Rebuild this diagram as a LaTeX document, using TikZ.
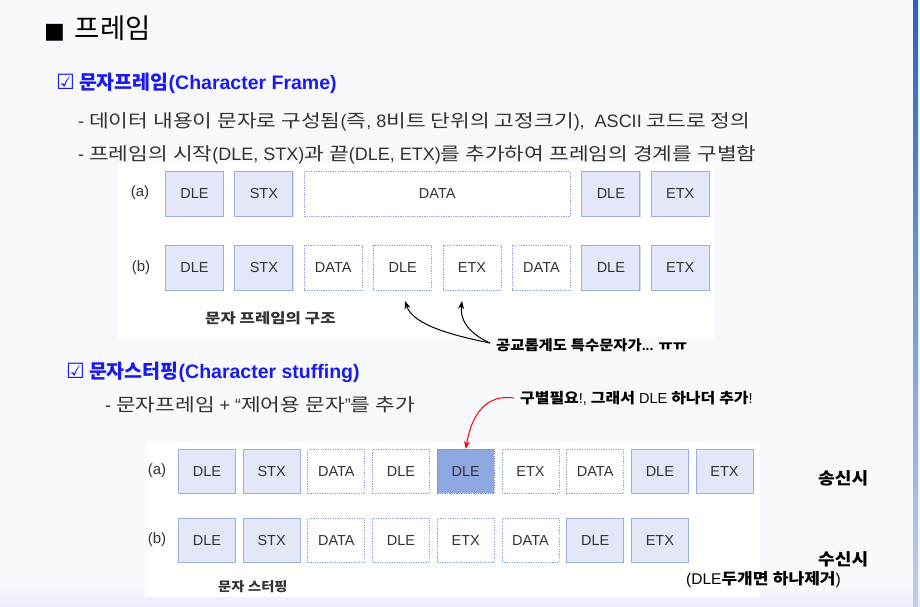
\documentclass[tikz,border=0pt]{standalone}
\usepackage{fontspec}
\setmainfont{Liberation Sans}
\newfontfamily\krfontA{Noto Sans CJK KR}
\newfontfamily\krfontB{Noto Sans CJK KR}[FakeStretch=1.1]
\newfontfamily\krfontC{Noto Sans CJK KR}[FakeStretch=1.19]
\newfontfamily\symfont{DejaVu Sans}
\usetikzlibrary{arrows.meta,shadows}
\newif\ifkrbold
\let\krsel\krfontB
\XeTeXinterchartokenstate=1
\newXeTeXintercharclass\KrClass
\newcount\krc
\krc="AC00
\loop\ifnum\krc<"D7A4\relax \XeTeXcharclass\krc=\KrClass \advance\krc by 1 \repeat
\krc="3131
\loop\ifnum\krc<"318F\relax \XeTeXcharclass\krc=\KrClass \advance\krc by 1 \repeat
\XeTeXinterchartoks 0 \KrClass = {\begingroup\krsel\ifkrbold\bfseries\fi}
\XeTeXinterchartoks 4095 \KrClass = {\begingroup\krsel\ifkrbold\bfseries\fi}
\XeTeXinterchartoks \KrClass 0 = {\endgroup}
\XeTeXinterchartoks \KrClass 4095 = {\endgroup}
\definecolor{boxfill}{HTML}{E4E7F8}
\definecolor{boxline}{HTML}{9BB0E0}
\definecolor{dashline}{HTML}{8FA9DA}
\definecolor{hifill}{HTML}{8EA8E2}
\definecolor{txt}{HTML}{333333}
\definecolor{headblue}{HTML}{1A1AF0}
\definecolor{bgc}{HTML}{F7F9FC}
\definecolor{edgeblue}{HTML}{2E62B8}
\tikzset{
  x=1pt, y=-1pt,
  fbox/.style={draw=boxline, fill=boxfill, line width=0.9pt, minimum height=45pt,
    minimum width=58pt, inner sep=0pt, anchor=north west, font=\fontsize{14.5}{16}\selectfont, text=txt,
    drop shadow={shadow xshift=0.8pt, shadow yshift=-0.8pt, fill=black!25, opacity=0.6}},
  dbox/.style={draw=dashline, fill=white, line width=0.9pt, dash pattern=on 1.3pt off 1.1pt,
    minimum height=45pt, minimum width=58pt, inner sep=0pt, anchor=north west,
    font=\fontsize{14.5}{16}\selectfont, text=txt},
  hbox/.style={dbox, fill=hifill, draw=boxline!80!black},
  sbox/.style={minimum height=44pt, minimum width=57pt},
  rowlab/.style={font=\fontsize{15}{17}\selectfont, text=txt, anchor=center},
  plain/.style={anchor=west, inner sep=0pt, text=black},
  curv/.style={-{Stealth[length=8pt,width=6pt]}, line width=1pt}
}
\begin{document}
\begin{tikzpicture}
\useasboundingbox (0,0) rectangle (920,607);
\fill[bgc] (0,0) rectangle (920,607);
\shade[top color=bgc, bottom color=blue!8] (0,588) rectangle (920,607);
\shade[top color=edgeblue, bottom color=edgeblue!30] (913,0) rectangle (918,607);
\fill[white] (118,163) rectangle (714,338);
\fill[white] (145,443) rectangle (760,597);
% headings
\node[plain, font=\fontsize{27.5}{30}\selectfont\let\krsel\krfontA] (title) at (44,28) {{\symfont\fontsize{22}{26}\selectfont ■}\hspace{10pt}프레임};
\node[plain, font=\fontsize{19.5}{22}\selectfont\bfseries\let\krsel\krfontA, text=headblue] (h1) at (56,83) {{\symfont\bfseries\fontsize{21}{22}\selectfont ☑}\hspace{4pt}문자프레임(Character Frame)};
\node[plain, font=\fontsize{18}{20}\selectfont\let\krsel\krfontC, text=txt] (l1) at (78,122) {- 데이터 내용이 문자로 구성됨(즉, 8비트 단위의 고정크기),\hspace{5pt} ASCII 코드로 정의};
\node[plain, font=\fontsize{18}{20}\selectfont\let\krsel\krfontC, text=txt] (l2) at (78,155) {- 프레임의 시작(DLE, STX)과 끝(DLE, ETX)를 추가하여 프레임의 경계를 구별함};
\node[plain, font=\fontsize{19.5}{22}\selectfont\bfseries\let\krsel\krfontA, text=headblue] (h2) at (66,372) {{\symfont\bfseries\fontsize{21}{22}\selectfont ☑}\hspace{4pt}문자스터핑(Character stuffing)};
\node[plain, font=\fontsize{18}{20}\selectfont\let\krsel\krfontC, text=txt] (l3) at (105,405) {- 문자프레임 + “제어용 문자”를 추가};
% top diagram row a
\node[rowlab] (la) at (140,193) {(a)};
\node[fbox] (a1) at (165,171) {DLE};
\node[fbox] (a2) at (234.4,171) {STX};
\node[dbox, minimum width=266pt] (a3) at (303.8,171) {DATA};
\node[fbox] (a4) at (581.4,171) {DLE};
\node[fbox] (a5) at (650.8,171) {ETX};
% row b
\node[rowlab] (lb) at (141,268) {(b)};
\node[fbox] (b1) at (165,245) {DLE};
\node[fbox] (b2) at (234.4,245) {STX};
\node[dbox] (b3) at (303.8,245) {DATA};
\node[dbox] (b4) at (373.2,245) {DLE};
\node[dbox] (b5) at (442.6,245) {ETX};
\node[dbox] (b6) at (512,245) {DATA};
\node[fbox] (b7) at (581.4,245) {DLE};
\node[fbox] (b8) at (650.8,245) {ETX};
\node[plain, font=\fontsize{14}{16}\selectfont\bfseries\let\krsel\krfontC, text=txt] (cap1) at (205,318) {문자 프레임의 구조};
\node[plain, font=\fontsize{14}{16}\selectfont\bfseries] (note1) at (496,345) {공교롭게도 특수문자가... ㅠㅠ};
\coordinate (src1) at (490,343);
\coordinate (t1) at (405,301);
\coordinate (t2) at (462,301);
\draw[curv] (src1) .. controls (440,333) and (412,322) .. (t1);
\draw[curv] (src1) .. controls (466,332) and (460,318) .. (t2);
% stuffing row a
\node[rowlab] (lc) at (157,471) {(a)};
\node[fbox, sbox] (c1) at (178,449) {DLE};
\node[fbox, sbox] (c2) at (242.7,449) {STX};
\node[dbox, sbox] (c3) at (307.4,449) {DATA};
\node[dbox, sbox] (c4) at (372.1,449) {DLE};
\node[hbox, sbox] (c5) at (436.8,449) {DLE};
\node[dbox, sbox] (c6) at (501.5,449) {ETX};
\node[dbox, sbox] (c7) at (566.2,449) {DATA};
\node[fbox, sbox] (c8) at (630.9,449) {DLE};
\node[fbox, sbox] (c9) at (695.6,449) {ETX};
% stuffing row b
\node[rowlab] (ld) at (157,540) {(b)};
\node[fbox, sbox] (d1) at (178,518) {DLE};
\node[fbox, sbox] (d2) at (242.7,518) {STX};
\node[dbox, sbox] (d3) at (307.4,518) {DATA};
\node[dbox, sbox] (d4) at (372.1,518) {DLE};
\node[dbox, sbox] (d5) at (436.8,518) {ETX};
\node[dbox, sbox] (d6) at (501.5,518) {DATA};
\node[fbox, sbox] (d7) at (566.2,518) {DLE};
\node[fbox, sbox] (d8) at (630.9,518) {ETX};
\node[plain, font=\fontsize{13}{15}\selectfont\bfseries, text=txt] (cap2) at (218,587) {문자 스터핑};
\node[plain, font=\fontsize{14.5}{16}\selectfont] (note2) at (520,398) {\krboldtrue 구별필요!, 그래서 DLE 하나더 추가!};
\coordinate (src2) at (514,398);
\draw[curv, red] (src2) .. controls (488,394) and (472,412) .. (c5.north);
\node[plain, font=\fontsize{16.5}{18}\selectfont\bfseries] (snd) at (818,478) {송신시};
\node[plain, font=\fontsize{16.5}{18}\selectfont\bfseries] (rcv) at (818,559) {수신시};
\node[plain, font=\fontsize{15.5}{17}\selectfont] (rcv2) at (686,580) {\krboldtrue (DLE두개면 하나제거)};
\end{tikzpicture}
\end{document}
